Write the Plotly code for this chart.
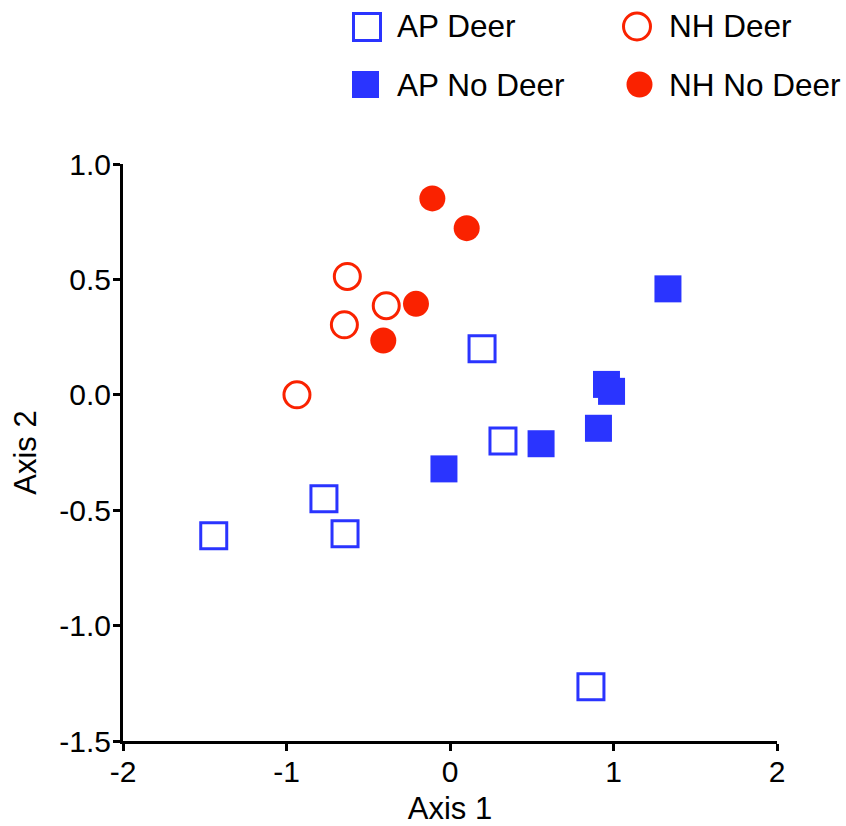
import plotly.graph_objects as go

# ---- data ----
ap_deer_x = [-1.445, -0.771, -0.642, 0.196, 0.324, 0.862]
ap_deer_y = [-0.611, -0.450, -0.602, 0.199, -0.200, -1.265]

ap_nodeer_x = [-0.037, 0.557, 0.908, 0.957, 0.988, 1.333]
ap_nodeer_y = [-0.321, -0.212, -0.145, 0.045, 0.015, 0.459]

nh_deer_x = [-0.936, -0.646, -0.628, -0.390]
nh_deer_y = [0.000, 0.303, 0.513, 0.386]

nh_nodeer_x = [-0.108, 0.102, -0.208, -0.408]
nh_nodeer_y = [0.851, 0.722, 0.394, 0.235]

series_names = ["AP Deer", "AP No Deer", "NH Deer", "NH No Deer"]
x_ticks = [-2, -1, 0, 1, 2]
y_ticks = [-1.5, -1.0, -0.5, 0.0, 0.5, 1.0]

BLUE = "#2A34FF"
RED = "#FA2200"
FONT = "Arial, Liberation Sans, sans-serif"

W, H = 846, 826
L, R, T, B = 123, 69, 164, 85
PW, PH = W - L - R, H - T - B

def px2paper(px, py):
    return (px - L) / PW, (H - B - py) / PH

fig = go.Figure()
fig.add_trace(go.Scatter(x=ap_deer_x, y=ap_deer_y, mode="markers", name=series_names[0],
                         marker=dict(symbol="square-open", size=26, color=BLUE, line=dict(width=3, color=BLUE))))
fig.add_trace(go.Scatter(x=ap_nodeer_x, y=ap_nodeer_y, mode="markers", name=series_names[1],
                         marker=dict(symbol="square", size=27, color=BLUE, line=dict(width=0))))
fig.add_trace(go.Scatter(x=nh_deer_x, y=nh_deer_y, mode="markers", name=series_names[2],
                         marker=dict(symbol="circle-open", size=26, color=RED, line=dict(width=3, color=RED))))
fig.add_trace(go.Scatter(x=nh_nodeer_x, y=nh_nodeer_y, mode="markers", name=series_names[3],
                         marker=dict(symbol="circle", size=26, color=RED, line=dict(width=0))))

# ---- manual legend (shapes + text) ----
shapes = []
annotations = []
def sq(cx, cy, s, filled, color):
    x0, y0 = px2paper(cx - s / 2, cy + s / 2)
    x1, y1 = px2paper(cx + s / 2, cy - s / 2)
    return dict(type="rect", xref="paper", yref="paper", x0=x0, y0=y0, x1=x1, y1=y1,
                line=dict(color=color, width=0 if filled else 3),
                fillcolor=color if filled else "rgba(0,0,0,0)")
def circ(cx, cy, s, filled, color):
    x0, y0 = px2paper(cx - s / 2, cy + s / 2)
    x1, y1 = px2paper(cx + s / 2, cy - s / 2)
    return dict(type="circle", xref="paper", yref="paper", x0=x0, y0=y0, x1=x1, y1=y1,
                line=dict(color=color, width=0 if filled else 3),
                fillcolor=color if filled else "rgba(0,0,0,0)")

shapes.append(sq(367, 27, 27, False, BLUE))
shapes.append(sq(365.5, 84.5, 27, True, BLUE))
shapes.append(circ(637, 26.5, 27, False, RED))
shapes.append(circ(639.5, 84.5, 26, True, RED))

for name, (tx, ty) in zip(series_names, [(395, 26), (395, 85), (667, 26), (667, 85)]):
    ax_, ay_ = px2paper(tx, ty)
    annotations.append(dict(text=name, xref="paper", yref="paper", x=ax_, y=ay_,
                            xanchor="left", yanchor="middle", showarrow=False,
                            font=dict(family=FONT, size=31.5, color="black")))

fig.update_layout(
    width=W, height=H,
    margin=dict(l=L, r=R, t=T, b=B, autoexpand=False),
    plot_bgcolor="white", paper_bgcolor="white",
    showlegend=False,
    shapes=shapes, annotations=annotations,
    font=dict(family=FONT, color="black"),
)
fig.update_xaxes(range=[-2, 2], tickvals=x_ticks, ticktext=[str(v) for v in x_ticks],
                 automargin=False, ticklabelstandoff=-5,
                 showgrid=False, zeroline=False, showline=True, linewidth=3, linecolor="black",
                 ticks="outside", ticklen=7, tickwidth=3, tickcolor="black",
                 tickfont=dict(family=FONT, size=30, color="black"),
                 title=dict(text="Axis 1", font=dict(family=FONT, size=31, color="black"), standoff=14))
fig.update_yaxes(range=[-1.5, 1.0], tickvals=y_ticks, ticktext=[f"{v:.1f}" for v in y_ticks],
                 automargin=False, ticklabelstandoff=-4,
                 showgrid=False, zeroline=False, showline=True, linewidth=3, linecolor="black",
                 ticks="outside", ticklen=7, tickwidth=3, tickcolor="black",
                 tickfont=dict(family=FONT, size=30, color="black"),
                 title=dict(text="Axis 2", font=dict(family=FONT, size=31, color="black"), standoff=14))

fig.write_html("out.html")
